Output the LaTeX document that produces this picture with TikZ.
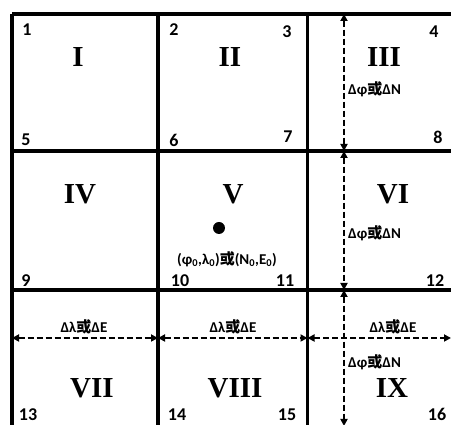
\documentclass[tikz,border=0pt]{standalone}
\usepackage{fontspec}
\setmainfont{Liberation Serif}
\newfontfamily\numfont{Carlito}
\newfontfamily\cjk{Noto Sans CJK SC}
\usetikzlibrary{arrows.meta}

\begin{document}
\begin{tikzpicture}[x=1pt, y=1pt,
    gridline/.style={line width=3.5pt},
    dimline/.style={{Triangle[length=7pt,width=7pt]}-{Triangle[length=7pt,width=7pt]}, line width=1.8pt, dash pattern=on 6pt off 3pt},
    zone/.style={font=\fontsize{29}{29}\selectfont\bfseries, inner sep=0pt},
    corner/.style={font=\numfont\fontsize{18}{18}\selectfont\bfseries, inner sep=0pt},
    dimlabel/.style={font=\numfont\fontsize{15}{15}\selectfont\bfseries, inner sep=0pt}]
      \useasboundingbox (0,0) rectangle (451,425);

      % grid corners
      \coordinate (c00) at (12,411);
      \coordinate (c10) at (158,411);
      \coordinate (c20) at (307.5,411);
      \coordinate (c30) at (460,411);
      \coordinate (c01) at (12,274);
      \coordinate (c31) at (460,274);
      \coordinate (c02) at (12,135);
      \coordinate (c32) at (460,135);
      \coordinate (c03) at (12,-5);
      \coordinate (c13) at (158,-5);
      \coordinate (c23) at (307.5,-5);

      \draw[gridline] (c00) -- (c30);
      \draw[gridline] (c01) -- (c31);
      \draw[gridline] (c02) -- (c32);
      \draw[gridline] (c00) -- (c03);
      \draw[gridline] (c10) -- (c13);
      \draw[gridline] (c20) -- (c23);

      % zones
      \node[zone] (zI) at (78,368) {I};
      \node[zone] (zII) at (230,368) {II};
      \node[zone] (zIII) at (384,368) {III};
      \node[zone] (zIV) at (80,231) {IV};
      \node[zone] (zV) at (233,231) {V};
      \node[zone] (zVI) at (393,231) {VI};
      \node[zone] (zVII) at (92,37) {VII};
      \node[zone] (zVIII) at (235,37) {VIII};
      \node[zone] (zIX) at (392,37) {IX};

      % corner numbers
      \node[corner] (k1) at (27,395) {1};
      \node[corner] (k2) at (174,395) {2};
      \node[corner] (k3) at (287,393) {3};
      \node[corner] (k4) at (434,393) {4};
      \node[corner] (k5) at (26,285) {5};
      \node[corner] (k6) at (174,285) {6};
      \node[corner] (k7) at (288,288) {7};
      \node[corner] (k8) at (438,288) {8};
      \node[corner] (k9) at (26,144) {9};
      \node[corner] (k10) at (180,144) {10};
      \node[corner] (k11) at (285,144) {11};
      \node[corner] (k12) at (435,144) {12};
      \node[corner] (k13) at (28,10.5) {13};
      \node[corner] (k14) at (177,10.5) {14};
      \node[corner] (k15) at (287,10.5) {15};
      \node[corner] (k16) at (437,10.5) {16};

      % origin point
      \node[circle, fill, inner sep=0pt, minimum size=12pt] (origin) at (219,197) {};
      \node[dimlabel] (originlabel) at (227,166) {(φ\textsubscript{0},λ\textsubscript{0}){\cjk\bfseries 或}(N\textsubscript{0},E\textsubscript{0})};

      % dimension arrows
      \coordinate (v0) at (344,411);
      \coordinate (v1) at (344,274);
      \coordinate (v2) at (344,135);
      \coordinate (v3) at (344,-1);
      \draw[dimline] (v0) -- (v1);
      \draw[dimline] (v1) -- (v2);
      \draw[dimline] (v2) -- (v3);

      \coordinate (h0) at (12,87);
      \coordinate (h1) at (158,87);
      \coordinate (h2) at (307.5,87);
      \coordinate (h3) at (451,87);
      \draw[dimline] (h0) -- (h1);
      \draw[dimline] (h1) -- (h2);
      \draw[dimline] (h2) -- (h3);

      \node[dimlabel, anchor=west] (dphi1) at (348,336) {Δφ{\cjk\bfseries 或}ΔN};
      \node[dimlabel, anchor=west] (dphi2) at (348,192) {Δφ{\cjk\bfseries 或}ΔN};
      \node[dimlabel, anchor=west] (dphi3) at (348,63) {Δφ{\cjk\bfseries 或}ΔN};
      \node[dimlabel] (dlam1) at (84,98) {Δλ{\cjk\bfseries 或}ΔE};
      \node[dimlabel] (dlam2) at (233,98) {Δλ{\cjk\bfseries 或}ΔE};
      \node[dimlabel] (dlam3) at (393,98) {Δλ{\cjk\bfseries 或}ΔE};
    \end{tikzpicture}
\end{document}
